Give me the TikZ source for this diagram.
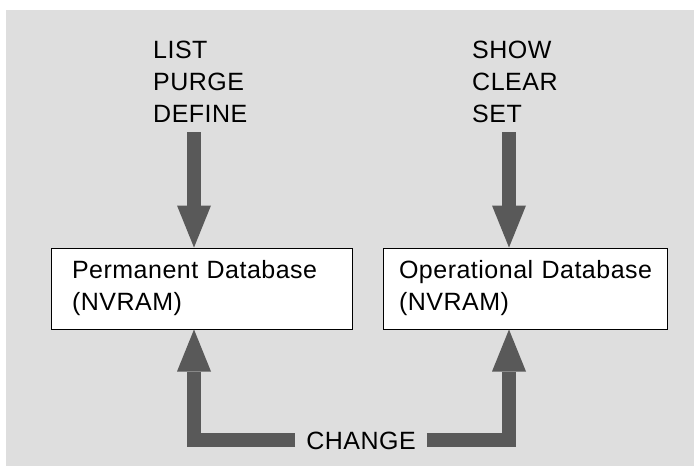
\documentclass[tikz,border=0pt]{standalone}
\usepackage{fontspec}
\setmainfont{Liberation Sans}[LetterSpace=2]
\usetikzlibrary{arrows.meta}
\tikzset{
  lbl/.style={font=\fontsize{25}{32}\selectfont, align=left, inner sep=0pt},
  dbbox/.style={draw=black, line width=1pt, fill=white, font=\fontsize{25}{32}\selectfont,
    align=left, minimum height=81pt, inner ysep=0pt},
  fatarrow/.style={draw=black!65, line width=14pt,
    -{Triangle[width=34pt,length=42pt,line width=0pt]}},
}
\begin{document}
\begin{tikzpicture}[x=1pt,y=-1pt]
\useasboundingbox (0,0) rectangle (694,466);
\fill[black!13] (6,10) rectangle (694,466);
% boxes
\node[dbbox, text width=259pt, inner xsep=21pt] (perm) at (201.5,288.5)
  {Permanent~Database\\(NVRAM)};
\node[dbbox, text width=252pt, inner xsep=16pt] (oper) at (525,288.5)
  {Operational~Database\\(NVRAM)};
% command labels
\node[lbl, anchor=north west] (cmdl) at (153,41) {LIST\\PURGE\\DEFINE};
\node[lbl, anchor=north west] (cmdr) at (472,41) {SHOW\\CLEAR\\SET};
\coordinate (s1) at (194,132);
\coordinate (s2) at (509,132);
\draw[fatarrow] (s1) -- (s1 |- perm.north);
\draw[fatarrow] (s2) -- (s2 |- oper.north);
% change
\node[font=\fontsize{25}{32}\selectfont, inner xsep=11pt, inner ysep=0pt, anchor=base] (chg) at (361,449) {CHANGE};
\draw[fatarrow] (chg.west) -| (perm.south -| s1);
\draw[fatarrow] (chg.east) -| (oper.south -| s2);
\end{tikzpicture}
\end{document}
